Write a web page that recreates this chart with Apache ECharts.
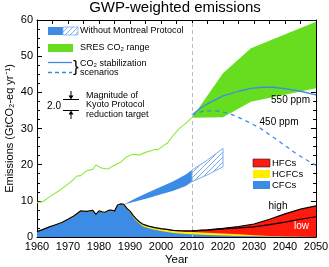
<!DOCTYPE html>
<html><head><meta charset="utf-8">
<script src="https://cdn.jsdelivr.net/npm/echarts@6/dist/echarts.min.js"></script>
<style>html,body{margin:0;padding:0;background:#fff}#c{width:329px;height:267px}</style>
</head><body><div id="c"></div>
<script>
// ---------- data ----------
const xTickLabels = [1960,1970,1980,1990,2000,2010,2020,2030,2040,2050];
const yTickLabels = [0,10,20,30,40,50,60];

// historical CO2 emissions (green line)
const histYears = [1960,1962,1964,1967,1971,1973,1974,1976,1978,1979,1981,1983,1984,1987,1989,1991,1993,1995,1998,1999,2001,2002,2004,2006,2008,2010];
const histCO2   = [9.5,9.8,11.1,12.7,15.3,16.9,16.9,18.3,18.7,19.9,19.0,18.8,19.4,20.7,22.2,22.9,22.7,23.4,24.2,24.1,25.4,25.9,28.2,30.1,31.4,33.0];

// SRES CO2 range
const sresYears = [2010,2020,2029,2050];
const sresLow   = [33.0,33.1,37.4,41.1];
const sresHigh  = [33.0,45.3,52.2,59.5];

// CO2 stabilization scenarios
const s550Years = [2010,2013,2016,2020,2025,2029,2033,2036,2040,2045,2050];
const s550      = [33.7,35.8,37.3,39.0,40.3,41.1,41.4,41.4,41.0,40.3,39.3];
const s450Years = [2010,2014,2018,2022,2027,2032,2038,2044,2050];
const s450      = [33.7,34.9,34.9,34.2,32.3,30.1,26.5,22.8,19.8];

// Without Montreal Protocol
const fanYears  = [1988,1992,1996,2000,2004,2008,2010];
const fanLow    = [9.0,9.9,10.8,11.8,12.8,14.1,15.3];
const fanHigh   = [9.0,10.8,12.4,13.9,15.4,17.3,18.5];
const hatchYears = [2010,2015,2020];
const hatchLow   = [15.3,17.2,19.4];
const hatchHigh  = [18.5,21.3,24.5];

// halocarbon emissions (components)
const haloYears = [1960,1962,1964,1966,1968,1970,1972,1974,1976,1978,1979,1980,1981,1982,1983,1984,1985,1986,1987,1988,1989,1990,1991,1992,1993,1994,1995,1996,1998,2000,2002,2004,2006,2008,2010,2015,2020,2025,2030,2035,2040,2045,2050];
const cfc  = [1.45,2.05,2.7,3.3,3.9,4.75,5.7,7.0,6.9,7.15,6.05,7.05,6.75,6.65,7.15,7.25,6.95,8.6,8.9,8.75,7.6,6.85,5.55,4.5,3.7,3.05,2.7,2.4,2.0,1.65,1.4,1.1,0.95,0.85,0.75,0.55,0.4,0.3,0.2,0.15,0.1,0.05,0.05];
const hcfc = [0.05,0.05,0.1,0.1,0.1,0.15,0.2,0.2,0.2,0.2,0.2,0.2,0.2,0.2,0.2,0.2,0.2,0.25,0.25,0.3,0.3,0.3,0.4,0.45,0.45,0.5,0.5,0.5,0.5,0.5,0.55,0.55,0.55,0.55,0.6,0.65,0.6,0.45,0.3,0.15,0.05,0.0,0.0];
const hfcHigh = [0,0,0,0,0,0,0,0,0,0,0,0,0,0,0,0,0,0,0,0,0,0,0.05,0.05,0.05,0.05,0.1,0.1,0.1,0.15,0.15,0.2,0.25,0.3,0.35,0.75,1.4,2.15,3.1,4.6,6.25,7.65,8.55];
const lowYears = [2010,2015,2020,2025,2030,2035,2040,2045,2050];
const hfcLow   = [0.35,0.7,1.25,1.75,2.3,3.1,3.95,4.85,5.55];

// ---------- helpers ----------
const FONT = "'Liberation Sans', Arial, Helvetica, sans-serif";
const C_BLUE = '#3c8ce6', C_GREEN = '#66dd1e', C_GLINE = '#8ee83c', C_RED = '#ff1a0e', C_YEL = '#ffee00', C_HATCH = '#79aef0';
const pairs = (xs, ys) => xs.map((x, i) => [x, ys[i]]);

function hatchCanvas(color){
  const c = document.createElement('canvas'); c.width = 5; c.height = 5;
  const g = c.getContext('2d');
  g.fillStyle = '#fff'; g.fillRect(0,0,5,5);
  g.strokeStyle = color; g.lineWidth = 1;
  g.beginPath(); g.moveTo(-1,6); g.lineTo(6,-1); g.stroke();
  g.beginPath(); g.moveTo(-1,1); g.lineTo(1,-1); g.stroke();
  g.beginPath(); g.moveTo(4,6); g.lineTo(6,4); g.stroke();
  return c;
}
const hatchPat = {image: hatchCanvas(C_HATCH), repeat: 'repeat'};

const stackYel = haloYears.map((y, i) => cfc[i] + hcfc[i]);
const totHigh  = haloYears.map((y, i) => cfc[i] + hcfc[i] + hfcHigh[i]);
const totLow   = lowYears.map((y, k) => { const i = haloYears.indexOf(y); return cfc[i] + hcfc[i] + hfcLow[k]; });

const base = {type: 'line', symbol: 'none', silent: true, animation: false};
const tickStyle = {color: '#000', width: 1};

// band (range) drawn as one polygon through the cartesian scales
function band(name, years, low, high, style, z){
  return {
    type: 'custom', name, coordinateSystem: 'cartesian2d', silent: true, animation: false, z: z || 2,
    data: years.map((y, i) => [y, low[i], high[i]]),
    encode: {x: 0, y: [1, 2]},
    renderItem: function (params, api) {
      if (params.dataIndex !== 0) return null;
      const top = years.map((y, i) => api.coord([y, high[i]]));
      const bot = years.map((y, i) => api.coord([y, low[i]])).reverse();
      return {type: 'polygon', shape: {points: top.concat(bot)}, style: style};
    }
  };
}

function xAx(pos){
  return {
    type: 'value', min: 1960, max: 2050, interval: 10, position: pos,
    axisLine: {show: true, onZero: false, lineStyle: {color: '#000', width: 1}},
    axisTick: {show: true, inside: true, length: 4, lineStyle: tickStyle},
    minorTick: {show: true, splitNumber: 2, length: 4, lineStyle: tickStyle},
    splitLine: {show: false}, minorSplitLine: {show: false},
    axisLabel: pos === 'bottom' ? {show: true, color: '#000', fontSize: 11, fontFamily: FONT, margin: 4, formatter: v => String(v)} : {show: false},
    name: pos === 'bottom' ? 'Year' : '', nameLocation: 'middle', nameGap: 17, nameMoveOverlap: false,
    nameTextStyle: {color: '#000', fontSize: 11.5, fontFamily: FONT}
  };
}
function yAx(pos){
  return {
    type: 'value', min: 0, max: 60, interval: 10, position: pos,
    axisLine: {show: true, onZero: false, lineStyle: {color: '#000', width: 1}},
    axisTick: {show: true, inside: true, length: 5, lineStyle: tickStyle},
    minorTick: {show: true, splitNumber: 4, length: 3, lineStyle: tickStyle},
    splitLine: {show: false}, minorSplitLine: {show: false},
    axisLabel: pos === 'left' ? {show: true, color: '#000', fontSize: 11, fontFamily: FONT, margin: 4, formatter: v => String(v)} : {show: false},
    name: pos === 'left' ? 'Emissions (GtCO\u2082-eq yr\u207B\u00B9)' : '', nameLocation: 'middle', nameGap: 22, nameRotate: 90, nameMoveOverlap: false,
    nameTextStyle: {color: '#000', fontSize: 11, fontFamily: FONT}
  };
}

const txt = (x, y, t, o) => Object.assign({type: 'text', x, y, silent: true, z: 100,
  style: Object.assign({text: t, fill: '#000', fontSize: 9, fontFamily: FONT, align: 'left', verticalAlign: 'middle'}, o || {})});

const option = {
  backgroundColor: '#fff',
  animation: false,
  title: {text: 'GWP-weighted emissions', left: 175, top: 0, padding: 0, textAlign: 'center',
    textStyle: {fontSize: 15, fontWeight: 'normal', color: '#000', fontFamily: FONT}},
  grid: {left: 37, right: 13, top: 20, bottom: 30, containLabel: false, outerBoundsMode: 'none'},
  xAxis: [xAx('bottom'), xAx('top')],
  yAxis: [yAx('left'), yAx('right')],
  series: [
    band('SRES CO2 range', sresYears, sresLow, sresHigh, {fill: C_GREEN}, 2),
    band('Without Montreal Protocol', fanYears, fanLow, fanHigh, {fill: C_BLUE}, 2),
    band('Without Montreal Protocol (hatched)', hatchYears, hatchLow, hatchHigh, {fill: hatchPat, stroke: C_HATCH, lineWidth: 1}, 2),
    // historical CO2
    Object.assign({}, base, {name: 'CO2', data: pairs(histYears, histCO2), lineStyle: {color: C_GLINE, width: 1.1}, z: 3,
      markLine: {silent: true, symbol: 'none', label: {show: false}, animation: false,
        lineStyle: {color: '#b3bcc8', type: [4, 3], width: 1}, data: [{xAxis: 2010}]}}),
    // stabilization
    Object.assign({}, base, {name: '550 ppm', data: pairs(s550Years, s550), lineStyle: {color: C_BLUE, width: 1.3}, z: 4}),
    Object.assign({}, base, {name: '450 ppm', data: pairs(s450Years, s450), lineStyle: {color: C_BLUE, width: 1.3, type: [4, 4]}, z: 4}),
    // halocarbons (painted from top layer down)
    Object.assign({}, base, {name: 'HFCs', data: pairs(haloYears, totHigh), lineStyle: {width: 0, opacity: 0}, areaStyle: {color: C_RED, opacity: 1}, z: 2}),
    Object.assign({}, base, {name: 'HCFCs', data: pairs(haloYears, stackYel), lineStyle: {width: 0, opacity: 0}, areaStyle: {color: C_YEL, opacity: 1}, z: 2}),
    Object.assign({}, base, {name: 'CFCs', data: pairs(haloYears, cfc), lineStyle: {width: 0, opacity: 0}, areaStyle: {color: C_BLUE, opacity: 1}, z: 2}),
    Object.assign({}, base, {name: 'total high', data: pairs(haloYears, totHigh), lineStyle: {color: '#000', width: 1.2}, z: 5}),
    Object.assign({}, base, {name: 'total low', data: pairs(lowYears, totLow), lineStyle: {color: '#000', width: 1.2}, z: 5})
  ],
  graphic: [
    // legend 1
    {type: 'rect', shape: {x: 48, y: 27, width: 15, height: 8}, style: {fill: C_BLUE}, silent: true, z: 100},
    {type: 'rect', shape: {x: 63, y: 27, width: 15, height: 8}, style: {fill: hatchPat, stroke: C_HATCH, lineWidth: 0.8}, silent: true, z: 100},
    txt(80, 31, 'Without Montreal Protocol'),
    {type: 'rect', shape: {x: 48, y: 44, width: 25, height: 8}, style: {fill: C_GREEN}, silent: true, z: 100},
    txt(80, 48, 'SRES CO\u2082 range'),
    {type: 'line', shape: {x1: 48, y1: 62.5, x2: 72, y2: 62.5}, style: {stroke: C_BLUE, lineWidth: 1.3}, silent: true, z: 100},
    {type: 'line', shape: {x1: 48, y1: 72.5, x2: 72, y2: 72.5}, style: {stroke: C_BLUE, lineWidth: 1.3, lineDash: [4, 3]}, silent: true, z: 100},
    txt(73, 67, '}', {fontSize: 17}),
    txt(80, 64, 'CO\u2082 stabilization'),
    txt(80, 73, 'scenarios'),
    txt(61, 106, '2.0', {align: 'right', fontSize: 10}),
    {type: 'line', shape: {x1: 63, y1: 99.5, x2: 79, y2: 99.5}, style: {stroke: '#000', lineWidth: 1}, silent: true, z: 100},
    {type: 'line', shape: {x1: 63, y1: 110.5, x2: 79, y2: 110.5}, style: {stroke: '#000', lineWidth: 1}, silent: true, z: 100},
    {type: 'line', shape: {x1: 71, y1: 91, x2: 71, y2: 97}, style: {stroke: '#000', lineWidth: 1}, silent: true, z: 100},
    {type: 'polygon', shape: {points: [[68.5, 95.5], [73.5, 95.5], [71, 99.5]]}, style: {fill: '#000'}, silent: true, z: 100},
    {type: 'line', shape: {x1: 71, y1: 113, x2: 71, y2: 119}, style: {stroke: '#000', lineWidth: 1}, silent: true, z: 100},
    {type: 'polygon', shape: {points: [[68.5, 114.5], [73.5, 114.5], [71, 110.5]]}, style: {fill: '#000'}, silent: true, z: 100},
    txt(86, 96, 'Magnitude of'),
    txt(86, 105, 'Kyoto Protocol'),
    txt(86, 114.5, 'reduction target'),
    // legend 2
    {type: 'rect', shape: {x: 253, y: 159, width: 17, height: 8}, style: {fill: C_RED, stroke: '#222', lineWidth: 0.6}, silent: true, z: 100},
    txt(272, 163, 'HFCs', {fontSize: 9.5}),
    {type: 'rect', shape: {x: 253, y: 170, width: 17, height: 8}, style: {fill: C_YEL}, silent: true, z: 100},
    txt(272, 174, 'HCFCs', {fontSize: 9.5}),
    {type: 'rect', shape: {x: 253, y: 181, width: 17, height: 8}, style: {fill: C_BLUE}, silent: true, z: 100},
    txt(272, 185, 'CFCs', {fontSize: 9.5}),
    // annotations
    txt(290.5, 100.5, '550 ppm', {align: 'center', fontSize: 10}),
    txt(279, 122, '450 ppm', {align: 'center', fontSize: 10}),
    txt(278, 206.5, 'high', {align: 'center', fontSize: 10}),
    txt(301.5, 226.5, 'low', {align: 'center', fontSize: 10, fill: '#fff'})
  ]
};

const chart = echarts.init(document.getElementById('c'), null, {renderer: 'canvas', width: 329, height: 267});
chart.setOption(option);
</script>
</body></html>
